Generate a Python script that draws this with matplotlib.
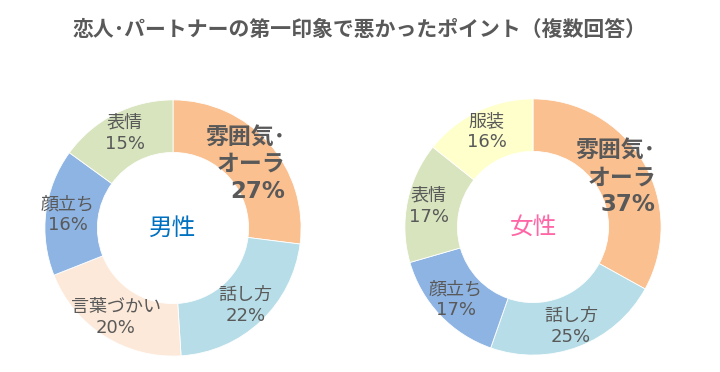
import numpy as np
import matplotlib
matplotlib.use('Agg')
import matplotlib.pyplot as plt

plt.rcParams['font.family'] = ['DejaVu Sans', 'Noto Sans CJK JP']

title = '恋人･パートナーの第一印象で悪かったポイント（複数回答）'

male_labels = ['雰囲気･\nオーラ', '話し方', '言葉づかい', '顔立ち', '表情']
male_values = [27, 22, 20, 16, 15]
male_colors = ['#FAC090', '#B7DEE8', '#FDE9D9', '#8EB4E3', '#D7E4BD']

female_labels = ['雰囲気･\nオーラ', '話し方', '顔立ち', '表情', '服装']
female_values = [37, 25, 17, 17, 16]
female_colors = ['#FAC090', '#B7DEE8', '#8EB4E3', '#D7E4BD', '#FFFFCC']

text_color = '#595959'

fig = plt.figure(figsize=(7.2, 3.72), dpi=100)
fig.text(0.5, 0.922, title, ha='center', va='center', fontsize=15,
         fontweight='bold', color=text_color, family=['Noto Sans CJK JP'])


def donut(rect, labels, values, colors, center_text, center_color):
    ax = fig.add_axes(rect)
    ax.pie(values, colors=colors, startangle=90, counterclock=False,
           radius=1.0, wedgeprops=dict(width=0.41, edgecolor='white', linewidth=0.6))
    ax.set_xlim(-1.05, 1.05)
    ax.set_ylim(-1.05, 1.05)
    ax.axis('off')

    total = sum(values)
    start = 90.0
    for i, (lab, v) in enumerate(zip(labels, values)):
        span = 360.0 * v / total
        mid = np.deg2rad(start - span / 2)
        start -= span
        if i == 0:
            r = 0.75
            ax.text(r * np.cos(mid), r * np.sin(mid), f'{lab}\n{v}%',
                    ha='center', va='center', fontsize=16.5, fontweight='bold',
                    color=text_color, linespacing=1.2, multialignment='right')
        else:
            r = 0.83
            ax.text(r * np.cos(mid), r * np.sin(mid), f'{lab}\n{v}%',
                    ha='center', va='center', fontsize=13,
                    color=text_color, linespacing=1.2)

    ax.text(0, 0, center_text, ha='center', va='center', fontsize=17,
            color=center_color)


donut([38.5 / 720, 9.5 / 372, 269 / 720, 269 / 372],
      male_labels, male_values, male_colors, '男性', '#0070C0')
donut([398.5 / 720, 10.5 / 372, 269 / 720, 269 / 372],
      female_labels, female_values, female_colors, '女性', '#FF66A6')

fig.savefig('out.png', dpi=100)
